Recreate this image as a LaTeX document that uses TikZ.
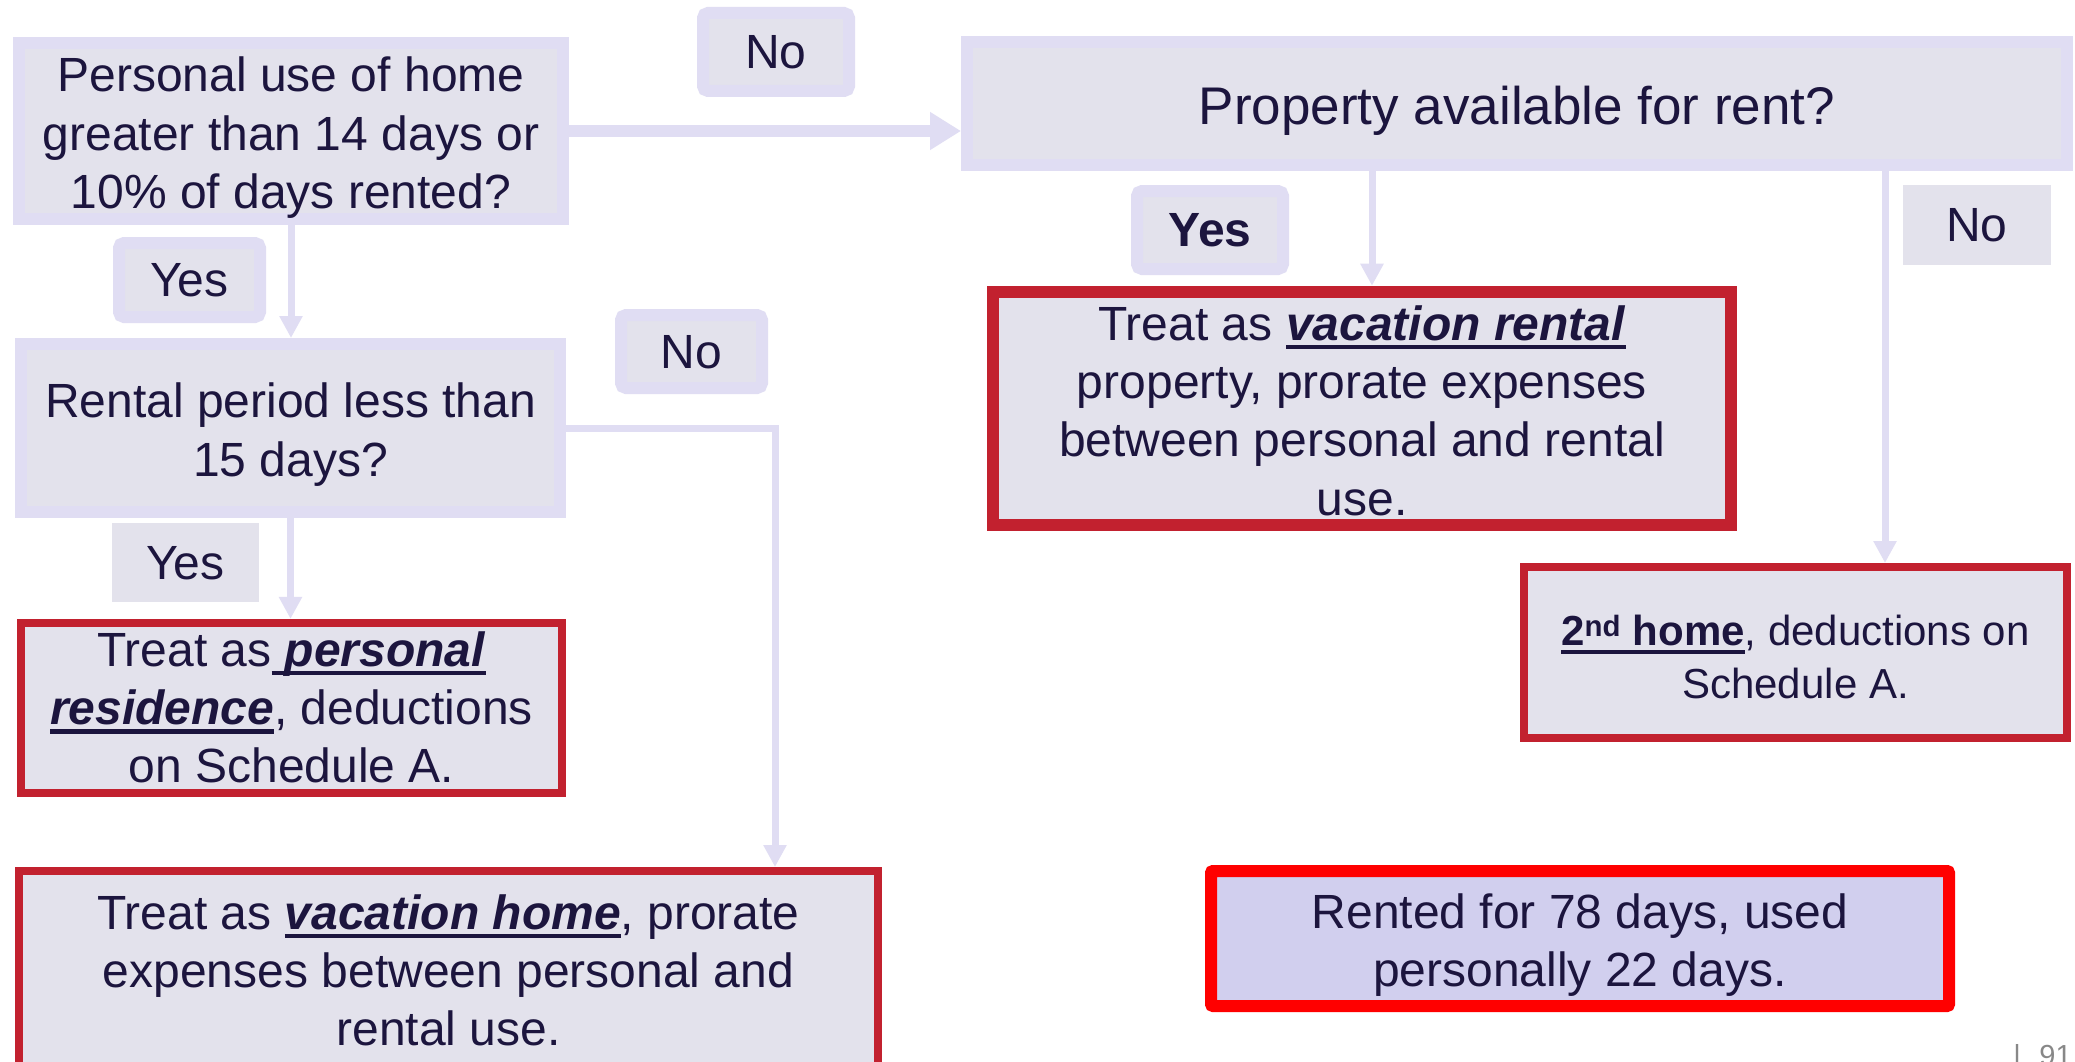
\documentclass[tikz,border=0pt]{standalone}
\usepackage{fontspec}
\setmainfont{Liberation Sans}
\usetikzlibrary{arrows.meta}
\definecolor{lav}{RGB}{224,221,243}
\definecolor{boxfill}{RGB}{227,226,236}
\definecolor{txt}{RGB}{28,21,62}
\definecolor{redb}{RGB}{194,33,47}
\definecolor{brightred}{RGB}{255,0,0}
\definecolor{rentfill}{RGB}{209,207,238}
\definecolor{pggray}{RGB}{136,136,136}
\newcommand\fsA{\fontsize{48}{58.3}\selectfont}
\newcommand\fsP{\fontsize{53}{63}\selectfont}
\newcommand\fsH{\fontsize{42}{53}\selectfont}
\newcommand\st{\rule[-0.212em]{0pt}{1.117em}}
\newcommand\stt{\rule{0pt}{\dimexpr0.905em+5pt\relax}}
\newcommand\stb{\rule[-0.212em]{0pt}{0.212em}}
\newlength\ulwd
\newcommand\myul[1]{\settowidth{\ulwd}{#1}\rlap{\rule[-9pt]{\ulwd}{4.5pt}}#1}
\newcommand\bi[1]{\textbf{\textit{#1}}}
\begin{document}
\begin{tikzpicture}[x=1pt,y=-1pt,
  txtbox/.style={inner sep=0pt, text=txt, align=center, font=\fsA},
  qbox/.style={txtbox, draw=lav, fill=boxfill, line width=12pt},
  tagbox/.style={qbox, rounded corners=5pt},
  flattag/.style={txtbox, fill=boxfill},
  rbox/.style={txtbox, draw=redb, fill=boxfill, line width=8pt},
  conn/.style={draw=lav, line width=7pt},
  arr/.style={conn, -{Triangle[length=22pt,width=22pt]}},
  bigarr/.style={draw=lav, line width=11.7pt, -{Triangle[length=31pt,width=36pt]}}]
\useasboundingbox (0,0) rectangle (2075,1062);
\clip (0,0) rectangle (2075,1062);
\fill[white] (0,0) rectangle (2075,1062);

% question boxes
\node[qbox, minimum width=544pt, minimum height=172pt] (B1) at (291,131)
  {\stt Personal use of home\\greater than 14 days or\\10\% of days rented?\stb};
\node[qbox, minimum width=539pt, minimum height=168pt] (B2) at (290.5,428)
  {\stt Rental period less than\\15 days?\stb};
\node[qbox, font=\fsP, minimum width=1100pt, minimum height=123pt] (Prop) at (1517,103.5)
  {\stt Property available for rent?\stb};

% labels
\node[tagbox, minimum width=146pt, minimum height=78pt] (No1) at (776,52) {\st No};
\node[tagbox, minimum width=141pt, minimum height=74pt] (Yes1) at (189.5,280) {\st Yes};
\node[tagbox, minimum width=141pt, minimum height=73pt] (No2) at (691.5,351.5) {\st No};
\node[flattag, minimum width=147pt, minimum height=79pt] (Yes2) at (185.5,562.5) {\st Yes};
\node[tagbox, minimum width=146pt, minimum height=78pt] (Yes3) at (1210,230) {\st\textbf{Yes}};
\node[flattag, minimum width=148pt, minimum height=80pt] (No3) at (1977,225) {\st No};

% result boxes
\node[rbox, minimum width=541pt, minimum height=170pt] (PR) at (291.5,708)
  {\st Treat as\myul{ \bi{personal}}\\\myul{\bi{residence}}, deductions\\on Schedule A.\st};
\node[rbox, minimum width=859pt, minimum height=195pt] (VH) at (448.5,968.5)
  {\stt Treat as \myul{\bi{vacation home}}, prorate\\expenses between personal and\\rental use.\stb};
\node[rbox, line width=12pt, minimum width=738pt, minimum height=231pt] (VR) at (1362,408.5)
  {\stt Treat as \myul{\bi{vacation rental}}\\property, prorate expenses\\between personal and rental\\use.\stb};
\node[rbox, font=\fsH, minimum width=543pt, minimum height=171pt] (H2) at (1795.5,652.5)
  {\rule{0pt}{47.5pt}\myul{\textbf{2\textsuperscript{nd} home}}, deductions on\\Schedule A.\st};
\node[txtbox, draw=brightred, fill=rentfill, line width=12pt, rounded corners=2pt,
  minimum width=738pt, minimum height=135pt] (Rent) at (1580,938.5)
  {\stt Rented for 78 days, used\\personally 22 days.\stb};

% connectors
\draw[bigarr] (B1.east) -- (Prop.west |- B1.east);
\draw[arr] (B1.south) -- (B1.south |- B2.north);
\draw[arr] (B2.east) -| ([xshift=326.5pt]VH.north);
\draw[arr] (B2.south) -- (B2.south |- PR.north);
\draw[arr] ([xshift=10pt]VR.north |- Prop.south) -- ([xshift=10pt]VR.north);
\draw[arr] ([xshift=89.5pt]H2.north |- Prop.south) -- ([xshift=89.5pt]H2.north);

% page number
\node[font=\fontsize{29}{29}\selectfont, text=pggray, anchor=base west, inner sep=0pt] (pg) at (2013.2,1065) {|\hspace{18.5pt}91};
\end{tikzpicture}
\end{document}
